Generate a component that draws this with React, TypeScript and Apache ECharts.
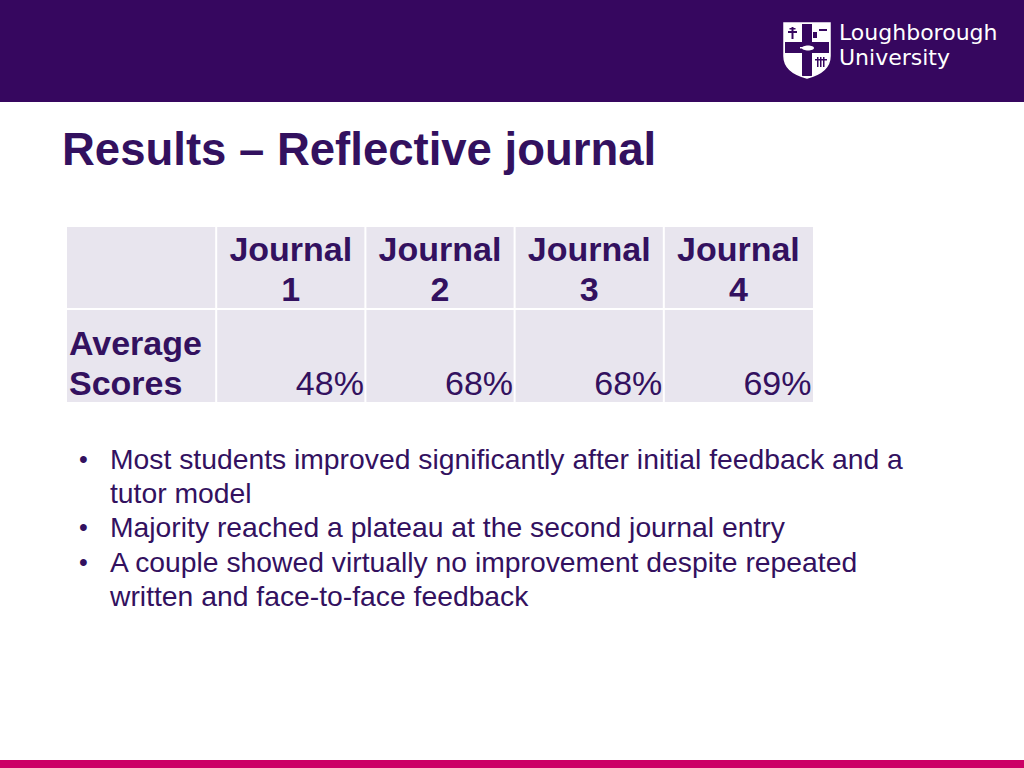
import React, { useEffect, useRef } from "react";
import * as echarts from "echarts";

const slideTitle = "Results – Reflective journal";
const journals = ["Journal 1", "Journal 2", "Journal 3", "Journal 4"];
const averageScores = [48, 68, 68, 69];
const rowLabel = ["Average", "Scores"];
const bulletPoints = [
  ["Most students improved significantly after initial feedback and a", "tutor model"],
  ["Majority reached a plateau at the second journal entry"],
  ["A couple showed virtually no improvement despite repeated", "written and face-to-face feedback"],
];
const brandLines = ["Loughborough", "University"];

const PURPLE = "#36075F";
const TEXT = "#33115F";
const CELL = "#E8E5EE";
const PINK = "#CC0066";
const FONT = '"Liberation Sans", Arial, sans-serif';

let registered = false;
function registerShapes() {
  if (registered) return;
  registered = true;
  echarts.graphic.registerShape(
    "shield",
    echarts.graphic.extendPath("M784,23 L830,23 L830,56 Q830,72 807,78 Q784,72 784,56 Z", {})
  );
}

function txt(text: string, x: number, y: number, size: number, opts: any = {}) {
  const style: any = {
    text,
    fill: opts.fill || TEXT,
    fontSize: size,
    fontWeight: opts.weight || "normal",
    fontFamily: opts.family || FONT,
    textAlign: opts.align || "left",
    align: opts.align || "left",
    textVerticalAlign: "middle",
    verticalAlign: "middle",
  };
  return { type: "text", x, y, style };
}

function buildGraphic() {
  const g: any[] = [];
  // header band
  g.push({ type: "rect", shape: { x: 0, y: 0, width: 1024, height: 102 }, style: { fill: PURPLE } });
  // bottom bar
  g.push({ type: "rect", shape: { x: 0, y: 760, width: 1024, height: 8 }, style: { fill: PINK } });

  // logo shield
  g.push({ type: "shield", x: 0, y: 0, style: { fill: "#FFFFFF" } });
  g.push({ type: "rect", shape: { x: 802, y: 24, width: 10, height: 52 }, style: { fill: PURPLE } });
  g.push({ type: "rect", shape: { x: 785, y: 42, width: 44, height: 11 }, style: { fill: PURPLE } });
  // cross crosslet top-left
  g.push({ type: "rect", shape: { x: 791.5, y: 27, width: 2, height: 12 }, style: { fill: PURPLE } });
  g.push({ type: "rect", shape: { x: 788, y: 31, width: 9, height: 2 }, style: { fill: PURPLE } });
  g.push({ type: "rect", shape: { x: 789.5, y: 28, width: 6, height: 1.5 }, style: { fill: PURPLE } });
  // top-right detail
  g.push({ type: "rect", shape: { x: 813, y: 32, width: 4, height: 6 }, style: { fill: PURPLE } });
  g.push({ type: "rect", shape: { x: 819, y: 29, width: 8, height: 2 }, style: { fill: PURPLE } });
  // lamp
  g.push({ type: "ellipse", shape: { cx: 808, cy: 48, rx: 6, ry: 2.5 }, style: { fill: "#FFFFFF" } });
  g.push({ type: "rect", shape: { x: 800, y: 47, width: 4, height: 1.5 }, style: { fill: "#FFFFFF" } });
  // bottom-right detail
  g.push({ type: "rect", shape: { x: 817, y: 57, width: 1.5, height: 10 }, style: { fill: PURPLE } });
  g.push({ type: "rect", shape: { x: 820, y: 57, width: 1.5, height: 10 }, style: { fill: PURPLE } });
  g.push({ type: "rect", shape: { x: 823, y: 57, width: 1.5, height: 10 }, style: { fill: PURPLE } });
  g.push({ type: "rect", shape: { x: 815, y: 59, width: 12, height: 1.5 }, style: { fill: PURPLE } });
  g.push({ type: "shield", x: 0, y: 0, style: { fill: "none", stroke: "#FFFFFF", lineWidth: 1.5 } });

  // brand text
  brandLines.forEach((t, i) => {
    g.push(txt(t, 839, 32 + i * 25.8, 22, { fill: "#FFFFFF", family: '"DejaVu Sans", sans-serif' }));
  });

  // title
  g.push(txt(slideTitle, 62, 149, 45.5, { weight: "bold" }));

  // table
  const left = 67, right = 813;
  const nCols = journals.length + 1;
  const step = (right - left) / nCols;
  const yEdges = [227, 309, 402];
  for (let r = 0; r < 2; r++) {
    for (let c = 0; c < nCols; c++) {
      const x0 = left + c * step + (c > 0 ? 1 : 0);
      const x1 = left + (c + 1) * step - (c < nCols - 1 ? 1 : 0);
      const y0 = yEdges[r] + (r > 0 ? 1 : 0);
      const y1 = yEdges[r + 1] - (r < 1 ? 1 : 0);
      g.push({ type: "rect", shape: { x: x0, y: y0, width: x1 - x0, height: y1 - y0 }, style: { fill: CELL } });
    }
  }
  journals.forEach((j, i) => {
    const cx = left + (i + 1.5) * step;
    const parts = j.split(" ");
    g.push(txt(parts[0], cx, 249, 34, { weight: "bold", align: "center" }));
    g.push(txt(parts[1], cx, 289, 34, { weight: "bold", align: "center" }));
  });
  rowLabel.forEach((t, i) => {
    g.push(txt(t, 69, 343 + i * 40, 34, { weight: "bold" }));
  });
  averageScores.forEach((v, i) => {
    const rx = left + (i + 2) * step - 1.5;
    g.push(txt(v + "%", rx, 383, 34, { align: "right" }));
  });

  // bullets
  let line = 0;
  bulletPoints.forEach((bp) => {
    bp.forEach((t, k) => {
      const y = 459 + line * 34.2;
      if (k === 0) g.push(txt("•", 79, y, 25));
      g.push(txt(t, 110, y, 28.3));
      line++;
    });
  });
  return g;
}

export default function App() {
  const ref = useRef<HTMLDivElement>(null);
  useEffect(() => {
    document.body.style.margin = "0";
    registerShapes();
    const chart = echarts.init(ref.current!, undefined, { renderer: "svg" });
    chart.setOption({
      animation: false,
      backgroundColor: "#FFFFFF",
      graphic: buildGraphic(),
    });
    return () => chart.dispose();
  }, []);
  return <div ref={ref} style={{ position: "absolute", left: 0, top: 0, width: 1024, height: 768 }} />;
}
